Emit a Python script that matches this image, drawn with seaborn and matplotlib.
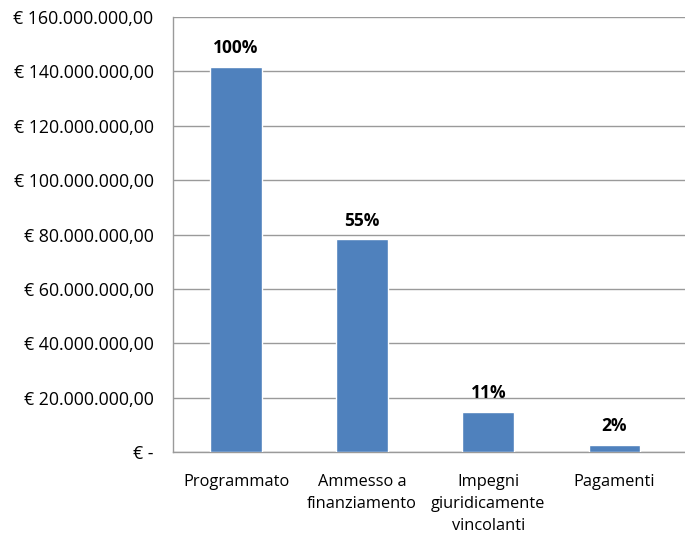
import matplotlib
matplotlib.use("Agg")
import matplotlib.pyplot as plt
import seaborn as sns
import pandas as pd
from matplotlib.ticker import FuncFormatter, FixedLocator

categories = ["Programmato", "Ammesso a\nfinanziamento", "Impegni\ngiuridicamente\nvincolanti", "Pagamenti"]
values = [141.7e6, 78.2e6, 14.8e6, 2.6e6]
pct_labels = ["100%", "55%", "11%", "2%"]
yticks = [0, 20e6, 40e6, 60e6, 80e6, 100e6, 120e6, 140e6, 160e6]

sns.set_theme(style="white")
plt.rcParams['font.family'] = ['Open Sans', 'DejaVu Sans']

df = pd.DataFrame({"cat": categories, "val": values})

fig = plt.figure(figsize=(6.85, 5.36), dpi=100)
ax = fig.add_axes([173/685, 1-452/536, 1-173/685, (452-17)/536])
sns.barplot(data=df, x="cat", y="val", color="#4F81BD", width=0.41, saturation=1, ax=ax, zorder=3)

ax.set_ylim(0, 160e6)
ax.set_xlim(-0.5, 3.56)
ax.yaxis.set_major_locator(FixedLocator(yticks))

def fmt(v, pos):
    if v == 0:
        return "€ -"
    s = f"{v:,.2f}".replace(",", "X").replace(".", ",").replace("X", ".")
    return "€ " + s

ax.yaxis.set_major_formatter(FuncFormatter(fmt))
ax.grid(axis="y", color="#9a9a9a", linewidth=1, zorder=0)
ax.set_axisbelow(True)
for s in ["top", "right"]:
    ax.spines[s].set_visible(False)
for s in ["left", "bottom"]:
    ax.spines[s].set_color("#9a9a9a")
    ax.spines[s].set_linewidth(1)

ax.tick_params(axis="y", which="major", direction="inout", length=12, color="#9a9a9a",
               labelsize=12.8, pad=8, labelcolor="#000000")
ax.set_xticks([0, 1, 2, 3])
ax.set_xticklabels(categories, fontsize=11.8, color="#000000", linespacing=1.5, va="top")
ax.tick_params(axis="x", which="major", length=0, pad=16)
ax.set_xticks([-0.5, 0.5, 1.5, 2.5, 3.5], minor=True)
ax.tick_params(axis="x", which="minor", direction="out", length=6, color="#9a9a9a")
ax.set_xlabel("")
ax.set_ylabel("")

for i, (v, lab) in enumerate(zip(values, pct_labels)):
    ax.annotate(lab, (i, v), xytext=(0, 7), textcoords="offset points",
                ha="center", va="bottom", fontsize=12.5, fontweight="bold", color="#000000")

fig.savefig("out.png", dpi=100)
